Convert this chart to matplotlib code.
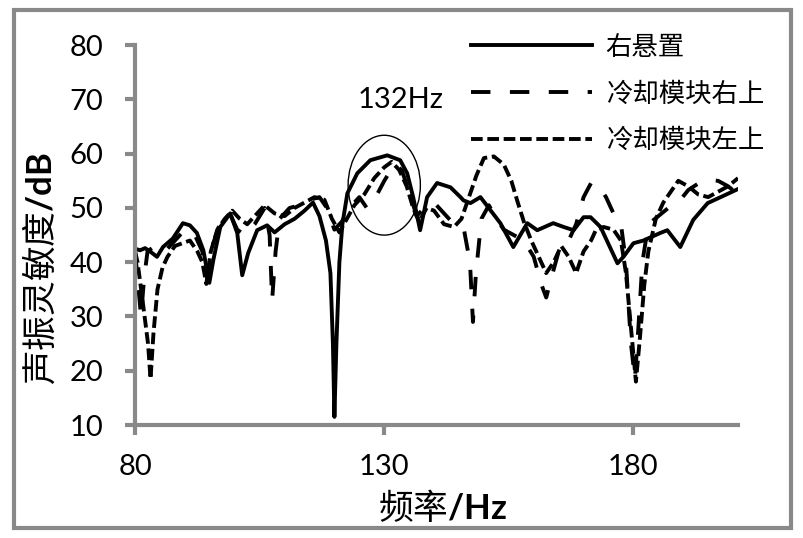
import matplotlib.pyplot as plt
from matplotlib.patches import Ellipse, Rectangle

plt.rcParams['font.family'] = ['Lato', 'Noto Sans CJK SC', 'DejaVu Sans']
plt.rcParams['mathtext.fontset'] = 'custom'
plt.rcParams['mathtext.bf'] = 'Lato:bold'

# 右悬置
x_mount = [80, 81, 82, 83, 84.4, 85.6, 87.6, 89.6, 91, 92.4, 93.7, 94.9, 95.7, 97.1, 99.1,
           100.5, 101.5, 102.7, 104.5, 106.5, 108, 110, 112, 114, 115.7, 117, 118.3, 119.2,
           119.7, 120.0, 120.4, 121.0, 121.6, 122.6, 124.6, 127.2, 130.6, 133.2, 134.6, 135.8,
           137.2, 138.6, 140.6, 143.3, 145.3, 145.9, 147.3, 149.3, 151.3, 153.3, 155.9, 158.7,
           160.7, 163.9, 166, 168, 170, 171.4, 173.4, 176.8, 178, 180, 182, 185.4, 186.8,
           189.4, 192, 194.9, 197.5, 201]
y_mount = [42.5, 42.2, 42.6, 42.0, 41.0, 42.8, 44.4, 47.2, 46.8, 45.4, 42.2, 36.2, 40.4, 46.5, 49.0,
           45.4, 37.6, 41.7, 45.9, 46.8, 45.5, 47.0, 48.0, 49.5, 51.0, 48.5, 44.0, 38.0,
           25.0, 11.5, 25.0, 40.0, 47.0, 52.7, 56.4, 58.8, 59.7, 58.8, 56.4, 52.0,
           45.9, 52.0, 54.6, 53.8, 52.0, 51.4, 50.9, 52.0, 49.6, 47.2, 42.8, 47.2,
           45.9, 47.2, 46.5, 45.9, 48.3, 48.3, 46.5, 39.8, 41.0, 43.5, 44.0, 45.4, 45.9,
           42.8, 47.8, 50.9, 52.0, 53.5]

# 冷却模块右上
x_right = [80, 80.6, 81.2, 81.8, 82.5, 84, 86, 88, 90, 92, 93.5, 94.5, 95.5, 97, 99, 100.5, 102,
           104, 106, 107, 107.5, 108.2, 109, 111, 113, 115, 117, 118.5, 120, 121.5, 123, 125,
           126.5, 128, 130, 132, 133.5, 135, 136.5, 138, 140, 142, 144, 146, 147.2, 147.8,
           148.4, 149.5, 151, 152.5, 154, 156, 158, 160, 161.5, 162.5, 163.5, 165, 167, 168.5,
           170, 171.5, 173, 174.5, 176, 177.5, 178.5, 179.5, 180.3, 181, 181.8, 183, 185, 187,
           189, 191, 193, 195, 197, 199, 201]
y_right = [42, 36, 30, 37, 42, 43, 42, 44, 46, 45, 42, 37, 43, 47, 49, 46, 45,
           47, 50, 45, 33, 42, 48, 50, 50.5, 51.5, 52, 50, 46, 47.5, 50, 52,
           50, 51.5, 55, 58, 57, 53, 48.5, 50, 51, 49, 47, 46, 40, 29,
           38, 48, 50.5, 48, 46, 45, 44, 41, 36, 33.5, 37, 42, 44, 47,
           52, 54.6, 54.2, 52, 49, 47, 40, 25, 18.5, 28, 40, 47, 48.5, 50,
           51, 53.3, 54.5, 55.2, 55, 54, 52.5]

# 冷却模块左上
x_left = [80, 80.5, 81.5, 82.6, 83.1, 83.7, 84.5, 85.5, 86.5, 88, 89.5, 91, 92.5, 93.5, 94.3,
          95.2, 96.5, 98, 99.5, 101, 102.5, 104, 106, 108, 110, 112, 114, 116, 118, 119.5,
          121, 122.5, 124, 126, 128, 130, 131.5, 133, 134.5, 135.8, 137, 138.5, 140, 142,
          144, 145.5, 147, 148.5, 150, 152, 154, 155.5, 156.8, 158, 159.5, 161, 162.5, 164,
          165.5, 167, 168.5, 170, 171.5, 172.5, 174, 176, 177.5, 178.5, 179.5, 180.5, 181.3,
          182.2, 183, 184.5, 186, 187.5, 189, 191, 193, 195, 197, 199, 201]
y_left = [42, 40, 33, 25, 18.5, 27, 35, 39, 41, 43, 43.5, 44, 42, 40, 36,
          42, 46, 48, 49.5, 48, 47, 48.5, 50.5, 49, 48.5, 50, 51, 52, 51.5, 48,
          45.5, 48, 50.5, 52.5, 55.5, 57.5, 58.5, 57, 54, 50, 47.5, 50, 49.5, 47,
          46.5, 48, 52, 56, 59.2, 59.5, 58, 55, 51, 47.5, 44, 41, 38, 40,
          43, 41, 38, 42, 44, 46, 46.5, 46, 44, 38, 28, 18, 26,
          36, 42, 48, 51, 53, 55, 54, 52.5, 52, 53, 54, 55.5]

fig = plt.figure(figsize=(8.04, 5.38), dpi=100)
ax = fig.add_axes([0.168, 0.21, 0.75, 0.706])

ax.plot(x_mount, y_mount, color='black', lw=2.8, label='右悬置')
ax.plot(x_right, y_right, color='black', lw=2.8, dashes=(5, 5), label='冷却模块右上')
ax.plot(x_left, y_left, color='black', lw=2.8, dashes=(3, 1.2), label='冷却模块左上')

ax.add_patch(Ellipse((130, 54.2), 14.5, 18.4, fill=False, edgecolor='black', lw=1.0))
ax.text(133.2, 69.9, '132Hz', fontsize=21, ha='center', va='center')

ax.set_xlim(80, 201)
ax.set_ylim(10, 80)
ax.set_xticks([80, 130, 180])
ax.set_yticks(range(10, 81, 10))

for s in ['top', 'right']:
    ax.spines[s].set_visible(False)
for s in ['left', 'bottom']:
    ax.spines[s].set_color('#898989')
    ax.spines[s].set_linewidth(3)
ax.tick_params(axis='both', direction='out', length=7, width=3, color='#898989',
               labelsize=21)
ax.tick_params(axis='y', pad=16)
ax.tick_params(axis='x', pad=14)

ax.set_xlabel('频率$\\mathbf{/Hz}$', fontsize=25, family=['Noto Sans CJK SC'])
ax.set_ylabel('声振灵敏度$\\mathbf{/dB}$', fontsize=25, family=['Noto Sans CJK SC'])
ax.xaxis.set_label_coords(0.51, -0.17)
ax.yaxis.set_label_coords(-0.125, 0.413)

leg = ax.legend(loc='upper right', bbox_to_anchor=(1.082, 1.093), frameon=False,
                prop={'family': ['Noto Sans CJK SC'], 'size': 19},
                handlelength=4.6, handletextpad=0.5, labelspacing=0.75)

fig.add_artist(Rectangle((0.017, 0.019), 0.967, 0.963, transform=fig.transFigure,
                         fill=False, edgecolor='#898989', lw=3))

fig.savefig('out.png', dpi=100)
